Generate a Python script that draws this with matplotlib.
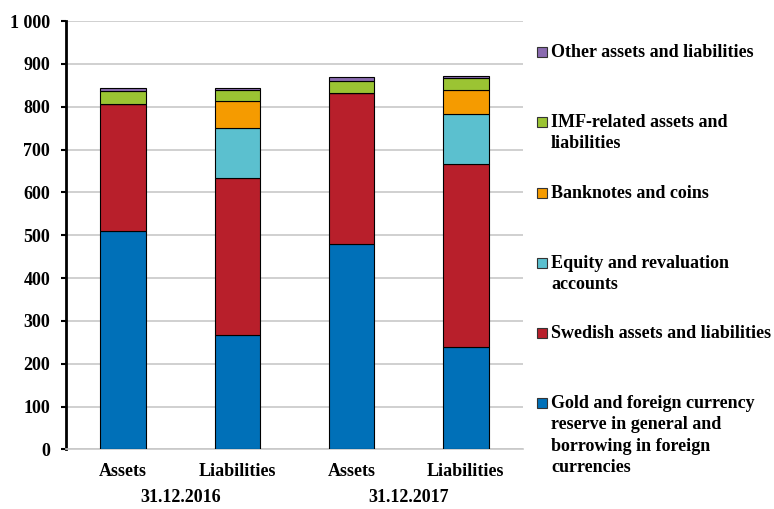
import numpy as np
import matplotlib.pyplot as plt
from matplotlib.patches import Rectangle

plt.rcParams['font.family'] = ['Liberation Serif', 'DejaVu Serif']
plt.rcParams['font.weight'] = 'bold'

# Data (SEK billion)
bar_labels = ['Assets', 'Liabilities', 'Assets', 'Liabilities']
dates = ['31.12.2016', '31.12.2017']

gold = [509, 267, 479, 240]
swedish = [298, 366, 354, 427]
equity = [0, 118, 0, 116]
banknotes = [0, 63, 0, 57]
imf = [29, 26, 28, 27]
other = [8, 4, 9, 4]

series = [gold, swedish, equity, banknotes, imf, other]
names = ['Gold and foreign currency\nreserve in general and\nborrowing in foreign\ncurrencies',
         'Swedish assets and liabilities',
         'Equity and revaluation\naccounts',
         'Banknotes and coins',
         'IMF-related assets and\nliabilities',
         'Other assets and liabilities']
colors = ['#0070B8', '#B81F2B', '#5BC0CF', '#F59B00', '#9BC433', '#8A6BB0']

fs = 13

fig = plt.figure(figsize=(7.74, 5.09), dpi=100)
ax = fig.add_axes([0.0853, 0.1169, 0.5904, 0.8418])

x = np.arange(len(bar_labels))
bottom = np.zeros(len(bar_labels))
for vals, col in zip(series, colors):
    vals = np.array(vals)
    ax.bar(x, vals, width=0.4, bottom=bottom, color=col, edgecolor='black', linewidth=0.8, zorder=3)
    bottom += vals

ax.set_xlim(-0.5, 3.5)
ax.set_ylim(0, 1000)
ax.set_yticks(range(0, 1001, 100))
ax.set_yticklabels([f'{v:,}'.replace(',', ' ') for v in range(0, 1001, 100)], fontsize=fs, fontweight='bold')
ax.yaxis.grid(True, color='#c8c8c8', linewidth=1.2, zorder=0)
ax.tick_params(axis='y', direction='out', length=3.5, width=1.5, pad=8)
ax.set_xticks(x)
ax.set_xticklabels(bar_labels, fontsize=fs, fontweight='bold')
ax.tick_params(axis='x', length=0, pad=10)

for s in ['top', 'right']:
    ax.spines[s].set_visible(False)
ax.spines['left'].set_linewidth(2)
ax.spines['bottom'].set_color('#c8c8c8')
ax.spines['bottom'].set_linewidth(1.2)

# date labels under each pair of bars
for i, d in enumerate(dates):
    fig.text(ax.transData.transform((2 * i + 0.5, 0))[0] / fig.dpi / 7.74, 0.006, d,
             ha='center', va='bottom', fontsize=fs, fontweight='bold')

# legend, one slot per series
leg_y = [403, 333, 263, 193, 122, 52]
for name, col, yp in zip(names, colors, leg_y):
    fig.patches.append(Rectangle((537 / 774, 1 - (yp + 5) / 509), 10 / 774, 10 / 509,
                                 transform=fig.transFigure, facecolor=col,
                                 edgecolor='#333333', linewidth=0.8))
    fig.text(551 / 774, 1 - (yp - 8) / 509, name, ha='left', va='top',
             fontsize=fs, fontweight='bold', linespacing=1.33)

fig.savefig('out.png', dpi=100)
